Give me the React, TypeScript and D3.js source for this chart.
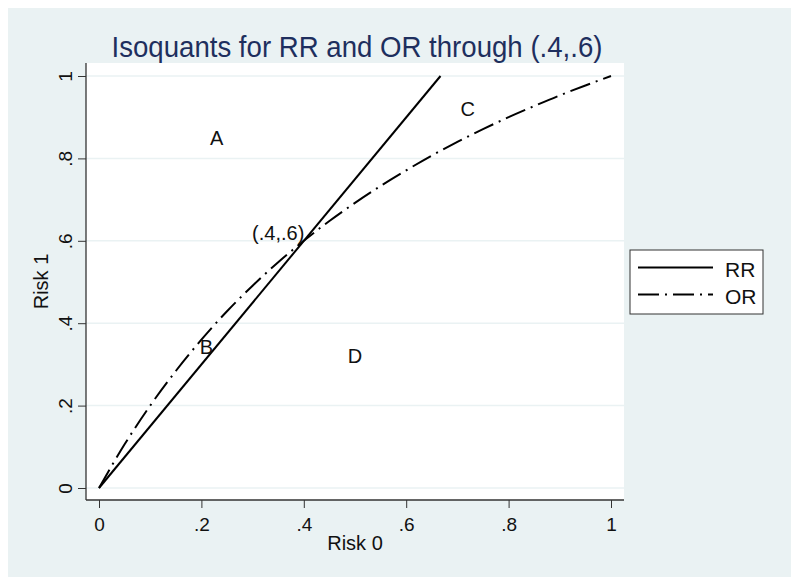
import React, { useEffect, useRef } from 'react';
import * as d3 from 'd3';

const xTicks = [0, 0.2, 0.4, 0.6, 0.8, 1];
const yTicks = [0, 0.2, 0.4, 0.6, 0.8, 1];
const tickLabel = (d: number) => (d === 0 ? '0' : d === 1 ? '1' : `.${Math.round(d * 10)}`);

// RR isoquant (straight line)
const rrRisk0 = [0, 0.667];
const rrRisk1 = [0, 1];

// OR isoquant (curve)
const orRisk0 = [0, 0.05, 0.1, 0.15, 0.2, 0.25, 0.3, 0.35, 0.4, 0.45, 0.5, 0.55, 0.6, 0.65, 0.7, 0.75, 0.8, 0.85, 0.9, 0.95, 1];
const orRisk1 = [0, 0.106, 0.2, 0.284, 0.36, 0.429, 0.491, 0.548, 0.6, 0.648, 0.692, 0.733, 0.771, 0.807, 0.84, 0.871, 0.9, 0.927, 0.953, 0.977, 1];

const noteText = ['A', 'B', 'C', 'D', '(.4,.6)'];
const noteX = [0.23, 0.21, 0.72, 0.5, 0.35];
const noteY = [0.85, 0.342, 0.92, 0.32, 0.62];

const seriesNames = ['RR', 'OR'];

const W = 800;
const H = 587;
const font = 'Liberation Sans, Arial, sans-serif';
const bg = '#EAF2F3';
const ink = '#111';
const orDash = '21 6 2 6';

const App: React.FC = () => {
  const ref = useRef<SVGSVGElement>(null);

  useEffect(() => {
    if (!ref.current) return;
    const svg = d3.select(ref.current);
    svg.selectAll('*').remove();

    const plot = { left: 86, right: 624, top: 63, bottom: 500 };
    const x = d3.scaleLinear().domain([0, 1]).range([99, 611]);
    const y = d3.scaleLinear().domain([0, 1]).range([488, 76]);

    svg.append('rect').attr('width', W).attr('height', H).attr('fill', '#fff');
    svg.append('rect').attr('x', 8).attr('y', 8).attr('width', 783).attr('height', 569).attr('fill', bg);
    svg
      .append('rect')
      .attr('x', plot.left)
      .attr('y', plot.top)
      .attr('width', plot.right - plot.left)
      .attr('height', plot.bottom - plot.top)
      .attr('fill', '#fff');

    // gridlines
    svg
      .append('g')
      .selectAll('line')
      .data(yTicks)
      .enter()
      .append('line')
      .attr('x1', plot.left)
      .attr('x2', plot.right)
      .attr('y1', d => y(d))
      .attr('y2', d => y(d))
      .attr('stroke', bg)
      .attr('stroke-width', 1.5);

    // axes
    const xAxis = svg
      .append('g')
      .attr('transform', `translate(0,${plot.bottom})`)
      .call(d3.axisBottom<number>(x).tickValues(xTicks).tickFormat(tickLabel).tickSize(8).tickSizeOuter(0));
    xAxis.select('.domain').attr('d', `M${plot.left},0H${plot.right}`);
    xAxis.selectAll('line').attr('stroke', '#333');
    xAxis.select('.domain').attr('stroke', '#333').attr('stroke-width', 1.3);
    xAxis
      .selectAll('text')
      .attr('y', 31)
      .attr('dy', 0)
      .attr('font-size', 19)
      .attr('font-family', font)
      .attr('fill', ink);

    const yAxis = svg
      .append('g')
      .attr('transform', `translate(${plot.left},0)`)
      .call(d3.axisLeft<number>(y).tickValues(yTicks).tickFormat(tickLabel).tickSize(8).tickSizeOuter(0));
    yAxis.select('.domain').attr('d', `M0,${plot.top}V${plot.bottom}`);
    yAxis.selectAll('line').attr('stroke', '#333');
    yAxis.select('.domain').attr('stroke', '#333').attr('stroke-width', 1.3);
    yAxis
      .selectAll('text')
      .attr('x', 0)
      .attr('dy', 0)
      .attr('text-anchor', 'middle')
      .attr('transform', 'translate(-14,0) rotate(-90)')
      .attr('font-size', 19)
      .attr('font-family', font)
      .attr('fill', ink);

    // axis titles
    svg
      .append('text')
      .attr('x', (plot.left + plot.right) / 2)
      .attr('y', 550)
      .attr('text-anchor', 'middle')
      .attr('font-size', 20)
      .attr('font-family', font)
      .attr('fill', ink)
      .text('Risk 0');
    svg
      .append('text')
      .attr('transform', `translate(48,${(plot.top + plot.bottom) / 2}) rotate(-90)`)
      .attr('text-anchor', 'middle')
      .attr('font-size', 20)
      .attr('font-family', font)
      .attr('fill', ink)
      .text('Risk 1');

    // title
    svg
      .append('text')
      .attr('x', 357)
      .attr('y', 57)
      .attr('text-anchor', 'middle')
      .attr('font-size', 30)
      .attr('font-family', font)
      .attr('fill', '#1E2F5E')
      .attr('textLength', 491)
      .attr('lengthAdjust', 'spacingAndGlyphs')
      .text('Isoquants for RR and OR through (.4,.6)');

    // lines
    const rrPts = rrRisk0.map((v, i) => [v, rrRisk1[i]]);
    const orPts = orRisk0.map((v, i) => [v, orRisk1[i]]);
    const curve = d3
      .line<number[]>()
      .x(d => x(d[0]))
      .y(d => y(d[1]))
      .curve(d3.curveMonotoneX);

    svg
      .append('path')
      .datum(rrPts)
      .attr('fill', 'none')
      .attr('stroke', '#000')
      .attr('stroke-width', 2)
      .attr('d', curve);
    svg
      .append('path')
      .datum(orPts)
      .attr('fill', 'none')
      .attr('stroke', '#000')
      .attr('stroke-width', 2)
      .attr('stroke-dasharray', orDash)
      .attr('d', curve);

    // annotations
    svg
      .append('g')
      .selectAll('text')
      .data(noteText)
      .enter()
      .append('text')
      .attr('x', (_, i) => x(noteX[i]))
      .attr('y', (_, i) => y(noteY[i]))
      .attr('dy', 7)
      .attr('text-anchor', 'middle')
      .attr('font-size', 20)
      .attr('font-family', font)
      .attr('fill', ink)
      .text(d => d);

    // legend
    const lg = svg.append('g');
    lg.append('rect')
      .attr('x', 630)
      .attr('y', 250)
      .attr('width', 133)
      .attr('height', 64)
      .attr('fill', '#fff')
      .attr('stroke', '#333')
      .attr('stroke-width', 1);
    seriesNames.forEach((name, i) => {
      const ly = 267.5 + i * 27;
      lg.append('line')
        .attr('x1', 638)
        .attr('x2', 713)
        .attr('y1', ly)
        .attr('y2', ly)
        .attr('stroke', '#000')
        .attr('stroke-width', 2)
        .attr('stroke-dasharray', i === 1 ? orDash : null);
      lg.append('text')
        .attr('x', 725)
        .attr('y', ly + 9.5)
        .attr('font-size', 21)
        .attr('font-family', font)
        .attr('fill', ink)
        .text(name);
    });
  }, []);

  return (
    <svg
      ref={ref}
      width={W}
      height={H}
      style={{ position: 'absolute', left: 0, top: 0, display: 'block' }}
    />
  );
};

export default App;
